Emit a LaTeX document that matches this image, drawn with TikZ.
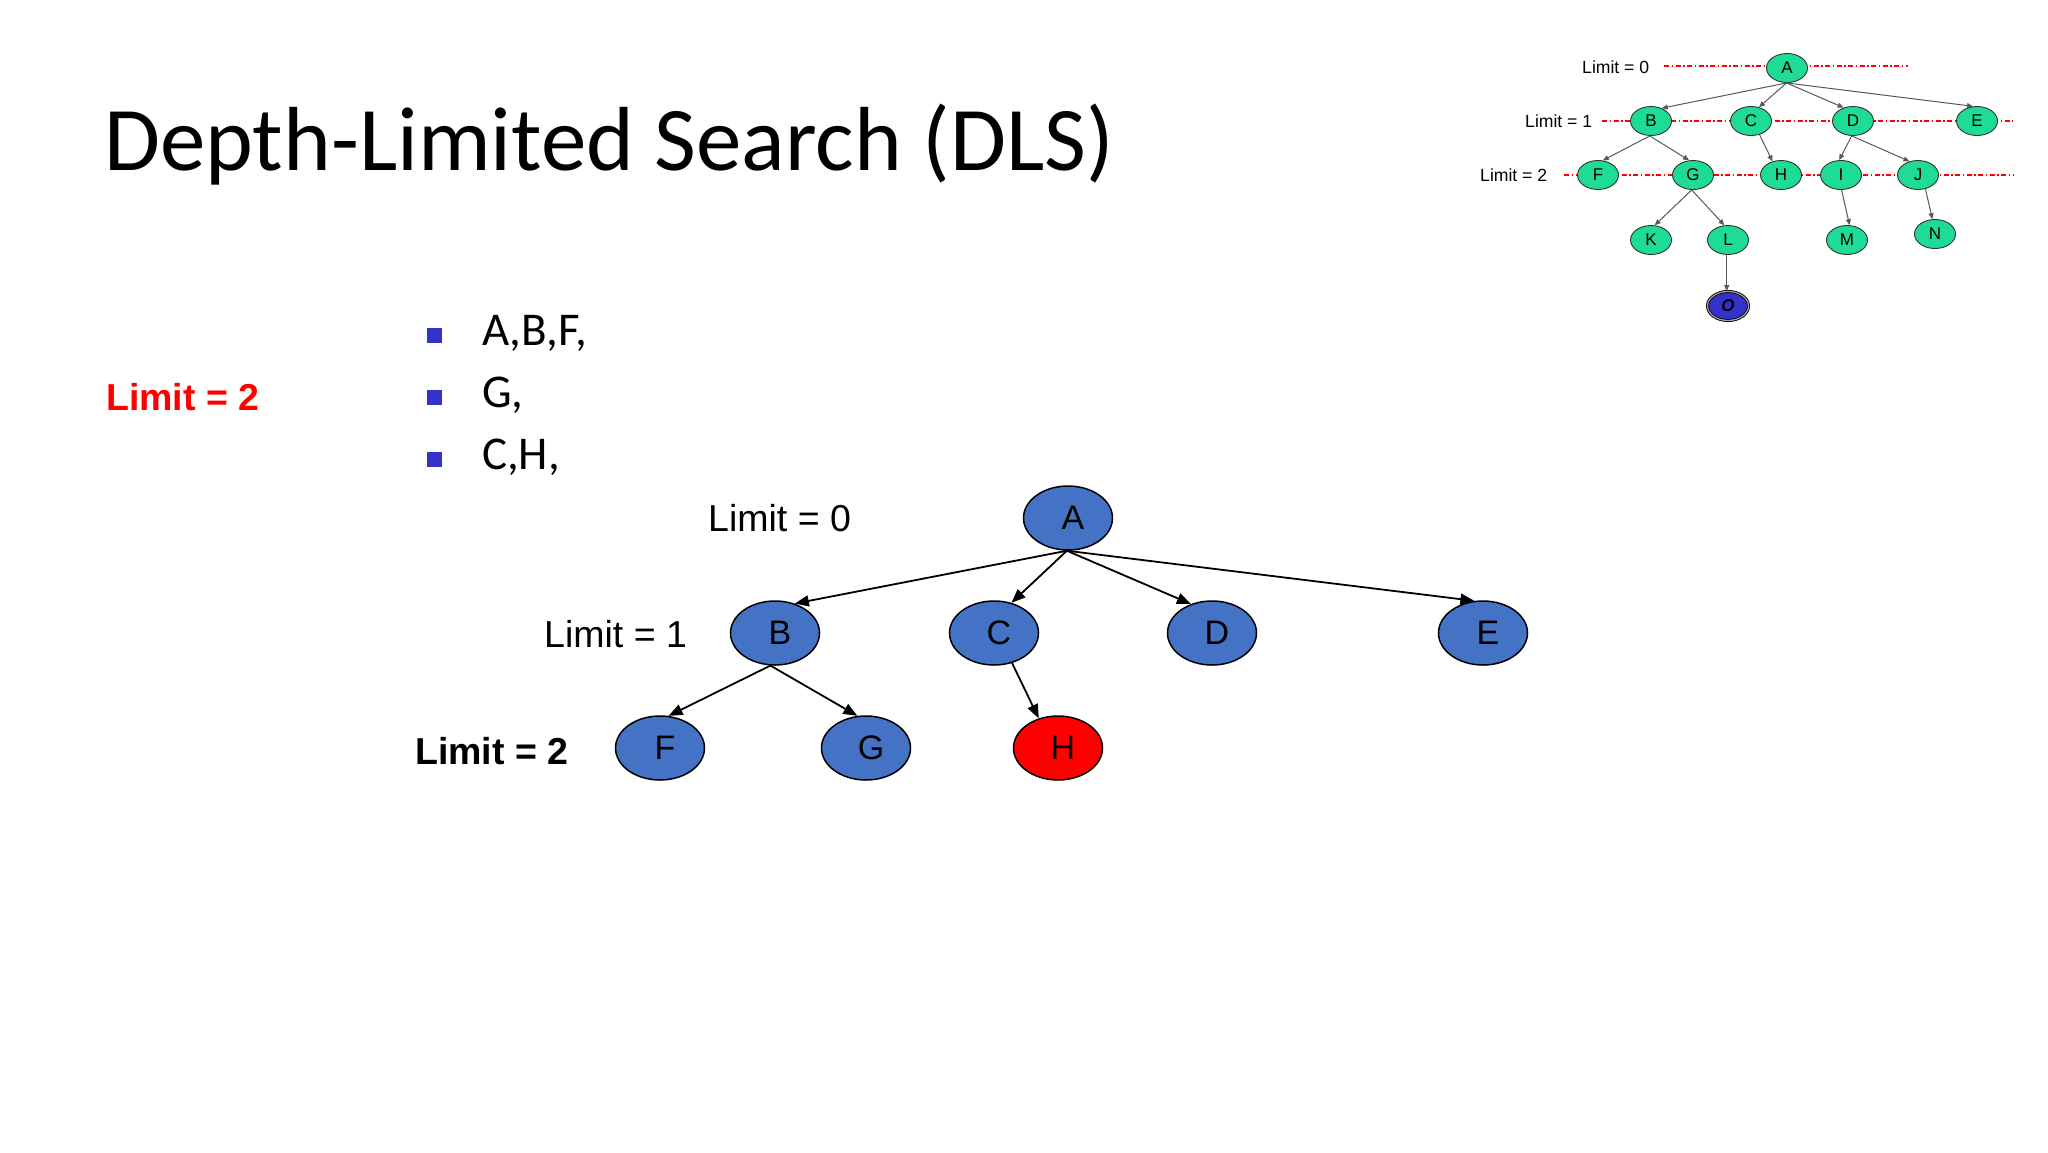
\documentclass[tikz,border=0pt]{standalone}
\usepackage{fontspec}
\setmainfont{Liberation Sans}
\newfontfamily\calib{Carlito}
\usetikzlibrary{shapes.geometric,arrows.meta}
\definecolor{nodeblue}{HTML}{4472C4}
\definecolor{mint}{RGB}{30,220,150}
\definecolor{bulletblue}{RGB}{51,51,204}
\definecolor{oblue}{RGB}{51,51,204}
\begin{document}
\begin{tikzpicture}[x=1pt,y=-1pt,
 bignode/.style={ellipse,draw=black,line width=1.5pt,fill=nodeblue,minimum width=89pt,minimum height=64pt,inner sep=0pt,font=\fontsize{34}{38}\selectfont},
 smallnode/.style={ellipse,draw=black!80,line width=0.9pt,fill=mint,minimum width=41pt,minimum height=29pt,inner sep=0pt,font=\fontsize{17}{20}\selectfont},
 bigedge/.style={line width=1.8pt,-{Triangle[length=14pt,width=11pt]}},
 smalledge/.style={draw=black!65,line width=1pt,-{Triangle[length=6pt,width=5pt]}},
 levelline/.style={red,line width=1.2pt,dash pattern=on 5pt off 2.5pt on 1.5pt off 2.5pt},
 limittext/.style={anchor=base west,inner sep=0pt,font=\fontsize{37.5}{45}\selectfont},
 smalllimit/.style={anchor=base west,inner sep=0pt,font=\fontsize{17.6}{20}\selectfont},
 bulletsq/.style={fill=bulletblue,minimum size=15pt,inner sep=0pt},
 bullettext/.style={anchor=base west,inner sep=0pt,font=\calib\fontsize{47}{54}\selectfont}]
\useasboundingbox[fill=white] (0,0) rectangle (2048,1152);
\newcommand\shiftlbl[1]{\hspace*{10pt}#1}

% title
\node[anchor=base west,inner sep=0pt,font=\calib\fontsize{91}{110}\selectfont] (title) at (104,170) {Depth-Limited Search (DLS)};

% left text
\node[limittext,font=\bfseries\fontsize{37.5}{45}\selectfont,text=red] (redlim) at (106,410) {Limit = 2};
\node[bulletsq] (b1) at (434.5,335) {};
\node[bulletsq] (b2) at (434.5,397) {};
\node[bulletsq] (b3) at (434.5,459) {};
\node[bullettext] (t1) at (482,345) {A,B,F,};
\node[bullettext] (t2) at (482,407) {G,};
\node[bullettext] (t3) at (482,469) {C,H,};

% main tree
\node[limittext] (l0) at (708,531) {Limit = 0};
\node[limittext] (l1) at (544,647) {Limit = 1};
\node[limittext,font=\bfseries\fontsize{37.5}{45}\selectfont] (l2) at (415,764) {Limit = 2};
\node[bignode] (A) at (1068,518) {\shiftlbl{A}};
\node[bignode] (B) at (775,633) {\shiftlbl{B}};
\node[bignode] (C) at (994,633) {\shiftlbl{C}};
\node[bignode] (D) at (1212,633) {\shiftlbl{D}};
\node[bignode] (E) at (1483,633) {\shiftlbl{E}};
\node[bignode] (F) at (660,748) {\shiftlbl{F}};
\node[bignode] (G) at (866,748) {\shiftlbl{G}};
\node[bignode,fill=red] (H) at (1058,748) {\shiftlbl{H}};
\draw[bigedge] (A.268) -- (B.56);
\draw[bigedge] (A.268) -- (C.60);
\draw[bigedge] (A.268) -- (D.126);
\draw[bigedge] (A.268) -- (E.105);
\draw[bigedge] (B.262) -- (F.75);
\draw[bigedge] (B.262) -- (G.105);
\draw[bigedge] (C.-59) -- (H.123);

% small tree
\coordinate (d0a) at (1664,66);  \coordinate (d0b) at (1908,66);
\coordinate (d1a) at (1602,121); \coordinate (d1b) at (2013,121);
\coordinate (d2a) at (1564,175); \coordinate (d2b) at (2013,175);
\draw[levelline] (d0a) -- (d0b);
\draw[levelline] (d1a) -- (d1b);
\draw[levelline] (d2a) -- (d2b);
\node[smalllimit] (sl0) at (1582,73) {Limit = 0};
\node[smalllimit] (sl1) at (1525,127) {Limit = 1};
\node[smalllimit] (sl2) at (1480,181) {Limit = 2};
\node[smallnode] (sA) at (1787,68) {A};
\node[smallnode] (sB) at (1651,121) {B};
\node[smallnode] (sC) at (1751,121) {C};
\node[smallnode] (sD) at (1853,121) {D};
\node[smallnode] (sE) at (1977,121) {E};
\node[smallnode] (sF) at (1598,175) {F};
\node[smallnode] (sG) at (1693,175) {G};
\node[smallnode] (sH) at (1781,175) {H};
\node[smallnode] (sI) at (1841,175) {I};
\node[smallnode] (sJ) at (1918,175) {J};
\node[smallnode] (sK) at (1651,240) {K};
\node[smallnode] (sL) at (1728,240) {L};
\node[smallnode] (sM) at (1847,240) {M};
\node[smallnode] (sN) at (1935,234) {N};
\node[smallnode,fill=oblue,draw=black,double=gray!70,double distance=1.2pt,font=\bfseries\itshape\fontsize{17}{20}\selectfont] (sO) at (1728,306) {O};
\draw[smalledge] (sA.268) -- (sB.50);
\draw[smalledge] (sA.268) -- (sC.60);
\draw[smalledge] (sA.268) -- (sD.125);
\draw[smalledge] (sA.268) -- (sE.105);
\draw[smalledge] (sB.265) -- (sF.72);
\draw[smalledge] (sB.265) -- (sG.105);
\draw[smalledge] (sC.-58) -- (sH.122);
\draw[smalledge] (sD.265) -- (sI.97);
\draw[smalledge] (sD.265) -- (sJ.122);
\draw[smalledge] (sG.265) -- (sK.76);
\draw[smalledge] (sG.265) -- (sL.104);
\draw[smalledge] (sI.272) -- (sM.80);
\draw[smalledge] (sJ.-62) -- (sN.100);
\draw[smalledge] (sL.265) -- (sO.95);
\end{tikzpicture}
\end{document}
